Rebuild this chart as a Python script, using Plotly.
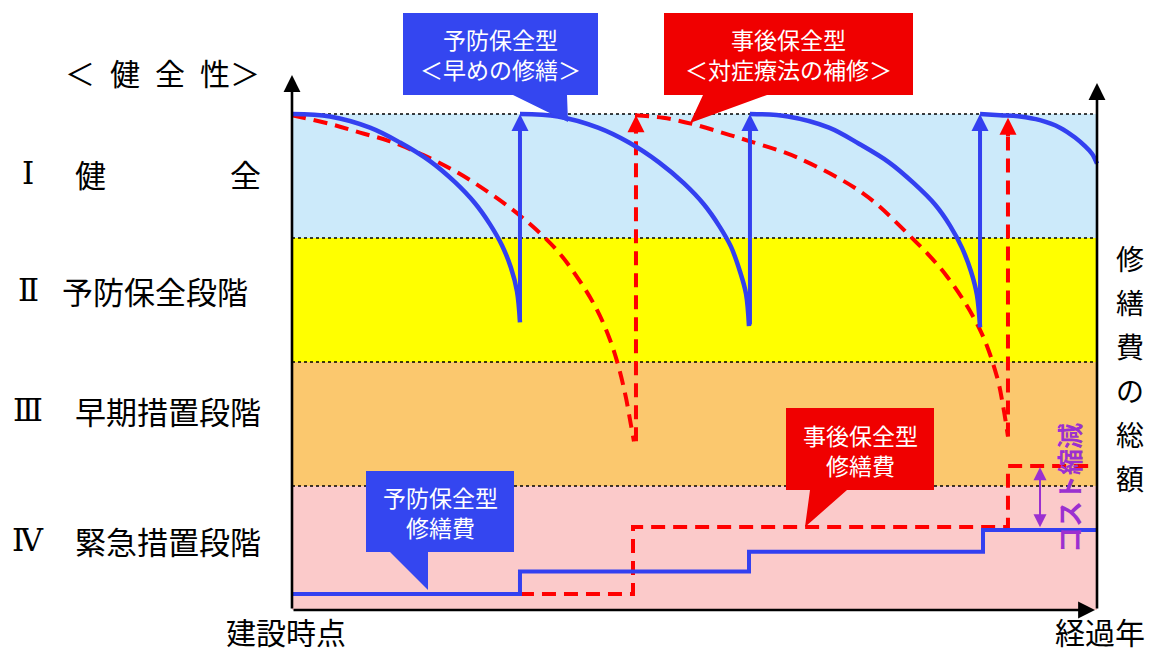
import plotly.graph_objects as go

# ---------------- data ----------------
# x: elapsed-time scale (0 = construction, 100 = right edge); y: soundness scale (0..4)
band_edges = [0, 1, 2, 3, 4]
band_colors = ["#FBCACA", "#FBC86E", "#FFFF00", "#CCEAFA"]      # IV, III, II, I
band_numerals = ["Ⅳ", "Ⅲ", "Ⅱ", "Ⅰ"]
band_names = ["緊急措置段階", "早期措置段階", "予防保全段階", "健　　　　全"]

# preventive maintenance (blue) soundness curves
blue_seg1_x = [0, 4.72, 9.69, 13.42, 17.14, 20.25, 22.73, 24.60, 26.09, 27.20, 27.95, 28.32]
blue_seg1_y = [4.0, 3.98, 3.89, 3.77, 3.62, 3.45, 3.28, 3.11, 2.94, 2.76, 2.57, 2.32]
blue_seg2_x = [28.32, 33.04, 38.01, 41.86, 45.59, 48.70, 51.18, 53.04, 54.53, 55.65, 56.40, 56.77]
blue_seg2_y = [4.0, 3.98, 3.89, 3.77, 3.61, 3.44, 3.27, 3.10, 2.93, 2.73, 2.55, 2.29]
blue_seg3_x = [56.89, 61.61, 66.71, 70.43, 74.16, 77.27, 79.88, 81.74, 83.23, 84.35, 85.09, 85.47]
blue_seg3_y = [4.0, 3.98, 3.89, 3.76, 3.61, 3.44, 3.27, 3.10, 2.92, 2.73, 2.54, 2.28]
blue_seg4_x = [85.47, 87.95, 90.43, 92.92, 95.40, 97.27, 98.51, 99.38, 100.0]
blue_seg4_y = [4.0, 3.99, 3.98, 3.95, 3.89, 3.81, 3.74, 3.68, 3.60]
blue_repair_x = [28.32, 56.89, 85.47]
blue_repair_from = [2.32, 2.29, 2.28]
blue_repair_to = [4.0, 4.0, 4.0]

# corrective maintenance (red) soundness curves
red_seg1_x = [0, 4.72, 8.45, 12.17, 16.27, 20.50, 24.60, 28.70, 32.92, 35.78, 37.89,
              39.50, 40.62, 41.49, 42.11, 42.48]
red_seg1_y = [3.99, 3.92, 3.85, 3.78, 3.67, 3.53, 3.36, 3.16, 2.90, 2.65, 2.42,
              2.18, 1.95, 1.71, 1.49, 1.36]
red_seg2_x = [42.61, 46.09, 49.69, 54.41, 56.89, 62.73, 70.93, 76.40, 81.37, 85.47, 87.58, 88.32, 88.94]
red_seg2_y = [3.99, 3.97, 3.92, 3.83, 3.78, 3.65, 3.36, 3.04, 2.69, 2.26, 1.88, 1.65, 1.40]
red_repair_x = [42.73, 88.94]
red_repair_from = [1.36, 1.40]
red_repair_to = [3.99, 3.97]

# cumulative repair cost (step lines)
blue_cost_x = [0, 28.32, 56.77, 85.84, 100]
blue_cost_y = [0.13, 0.31, 0.47, 0.645, 0.645]
red_cost_x = [28.32, 42.36, 88.94, 100]
red_cost_y = [0.13, 0.669, 1.161, 1.161]
cost_gap_x = 92.92

# ---------------- geometry helpers (pixel -> data) ----------------
W, H = 1152, 653
def X(px):
    return (px - 292) / 8.05
def Y(py):
    return (610 - py) / 124.0

BLUE = "#3340F0"
BOX_BLUE = "#3446F0"
RED = "#FF0000"
BOX_RED = "#F00000"
PURPLE = "#9B30D0"
JP = "Noto Sans CJK JP"
DASH = "14px,8px"

fig = go.Figure()

# bands
for i, c in enumerate(band_colors):
    fig.add_shape(type="rect", x0=0, x1=100, y0=band_edges[i], y1=band_edges[i + 1],
                  fillcolor=c, line_width=0, layer="below")
for e in band_edges[1:]:
    fig.add_shape(type="line", x0=0, x1=100, y0=e, y1=e,
                  line=dict(color="black", width=1.5, dash="dot"), layer="below")

# cost step lines
fig.add_trace(go.Scatter(x=red_cost_x, y=red_cost_y, mode="lines", line_shape="hv",
                         line=dict(color=RED, width=4, dash=DASH), hoverinfo="skip"))
fig.add_trace(go.Scatter(x=blue_cost_x, y=blue_cost_y, mode="lines", line_shape="hv",
                         line=dict(color=BLUE, width=4), hoverinfo="skip"))

# red curves
for sx, sy in [(red_seg1_x, red_seg1_y), (red_seg2_x, red_seg2_y)]:
    fig.add_trace(go.Scatter(x=sx, y=sy, mode="lines", line=dict(color=RED, width=4, dash=DASH,
                             shape="spline", smoothing=1.0), hoverinfo="skip"))
# red repair dashed shafts
for rx, r0, r1 in zip(red_repair_x, red_repair_from, red_repair_to):
    fig.add_trace(go.Scatter(x=[rx, rx], y=[r0, r1 - 0.12], mode="lines",
                             line=dict(color=RED, width=4, dash=DASH), hoverinfo="skip"))
    fig.add_annotation(x=rx, y=r1, ax=rx, ay=r1 - 0.16, xref="x", yref="y", axref="x", ayref="y",
                       text="", showarrow=True, arrowhead=2, arrowsize=0.85, arrowwidth=4,
                       arrowcolor=RED, standoff=0)

# blue curves
for sx, sy in [(blue_seg1_x, blue_seg1_y), (blue_seg2_x, blue_seg2_y),
               (blue_seg3_x, blue_seg3_y), (blue_seg4_x, blue_seg4_y)]:
    fig.add_trace(go.Scatter(x=sx, y=sy, mode="lines", line=dict(color=BLUE, width=4.5,
                             shape="spline", smoothing=1.0), hoverinfo="skip"))
for bx, b0, b1 in zip(blue_repair_x, blue_repair_from, blue_repair_to):
    fig.add_annotation(x=bx, y=b1, ax=bx, ay=b0, xref="x", yref="y", axref="x", ayref="y",
                       text="", showarrow=True, arrowhead=2, arrowsize=0.85, arrowwidth=4,
                       arrowcolor=BLUE, standoff=0)

# cost reduction double arrow + label
fig.add_annotation(x=cost_gap_x, y=red_cost_y[-1] - 0.01, ax=cost_gap_x, ay=blue_cost_y[-1] + 0.01,
                   xref="x", yref="y", axref="x", ayref="y", text="", showarrow=True,
                   arrowhead=2, startarrowhead=2, arrowside="end+start", arrowsize=1.3,
                   startarrowsize=1.3, arrowwidth=2, arrowcolor=PURPLE, standoff=0, startstandoff=0)
fig.add_annotation(x=X(1068), y=Y(488), text="<b>コスト縮減</b>", textangle=-90, showarrow=False,
                   font=dict(family=JP, size=26, color=PURPLE))

# axes (drawn manually with arrows)
fig.add_annotation(x=0, y=Y(75), ax=0, ay=0, xref="x", yref="y", axref="x", ayref="y", text="",
                   showarrow=True, arrowhead=2, arrowsize=1.3, arrowwidth=2.6, arrowcolor="black", standoff=0)
fig.add_annotation(x=100, y=Y(83), ax=100, ay=0, xref="x", yref="y", axref="x", ayref="y", text="",
                   showarrow=True, arrowhead=2, arrowsize=1.3, arrowwidth=2.6, arrowcolor="black", standoff=0)
fig.add_annotation(x=X(1095), y=0, ax=0, ay=0, xref="x", yref="y", axref="x", ayref="y", text="",
                   showarrow=True, arrowhead=2, arrowsize=1.3, arrowwidth=2.6, arrowcolor="black", standoff=0)

# callouts
def callout(pts, color):
    path = "M " + " L ".join(f"{X(a):.3f},{Y(b):.4f}" for a, b in pts) + " Z"
    fig.add_shape(type="path", path=path, fillcolor=color, line_width=0, layer="above")

callout([(403, 13), (598, 13), (598, 95), (567, 95), (568, 122), (513, 95), (403, 95)], BOX_BLUE)
callout([(664, 13), (913, 13), (913, 95), (767, 95), (690, 123), (703, 95), (664, 95)], BOX_RED)
callout([(366, 471), (514, 471), (514, 552), (428, 552), (428, 590), (390, 552), (366, 552)], BOX_BLUE)
callout([(786, 408), (934, 408), (934, 490), (847, 490), (805, 527), (810, 490), (786, 490)], BOX_RED)

for cx, cy, txt in [(500.5, 54, "予防保全型<br>＜早めの修繕＞"),
                    (788.5, 54, "事後保全型<br>＜対症療法の補修＞"),
                    (440, 512, "予防保全型<br>修繕費"),
                    (860, 450, "事後保全型<br>修繕費")]:
    fig.add_annotation(x=X(cx), y=Y(cy), text=txt, showarrow=False,
                       font=dict(family=JP, size=23, color="white"))

# left labels
fig.add_annotation(x=X(162), y=Y(72), text="＜\u2002健\u2002全\u2002性＞", showarrow=False,
                   font=dict(family=JP, size=30, color="black"))
name_px = [(168, 540), (168, 410), (155, 290), (168, 173)]
for (nx, ny), num, name in zip(name_px, band_numerals, band_names):
    fig.add_annotation(x=X(28), y=Y(ny), text=num, showarrow=False,
                       font=dict(family="DejaVu Serif, Liberation Serif, serif", size=31, color="black"))
    fig.add_annotation(x=X(nx), y=Y(ny), text=name, showarrow=False,
                       font=dict(family=JP, size=31, color="black"))

# axis titles
fig.add_annotation(x=X(286), y=Y(631), text="建設時点", showarrow=False,
                   font=dict(family=JP, size=30, color="black"))
fig.add_annotation(x=X(1100), y=Y(631), text="経過年", showarrow=False,
                   font=dict(family=JP, size=30, color="black"))
for k, ch in enumerate("修繕費の総額"):
    fig.add_annotation(x=X(1130), y=Y(258 + 44 * k), text=ch, showarrow=False,
                       font=dict(family=JP, size=28, color="black"))

fig.update_layout(
    width=W, height=H, margin=dict(l=0, r=0, t=0, b=0),
    paper_bgcolor="white", plot_bgcolor="white", showlegend=False,
    xaxis=dict(range=[X(0), X(W)], visible=False, fixedrange=True),
    yaxis=dict(range=[Y(H), Y(0)], visible=False, fixedrange=True),
)

fig.write_html("out.html", config={"displayModeBar": False},
               post_script="document.body.style.margin='0';document.body.style.overflow='hidden';")
